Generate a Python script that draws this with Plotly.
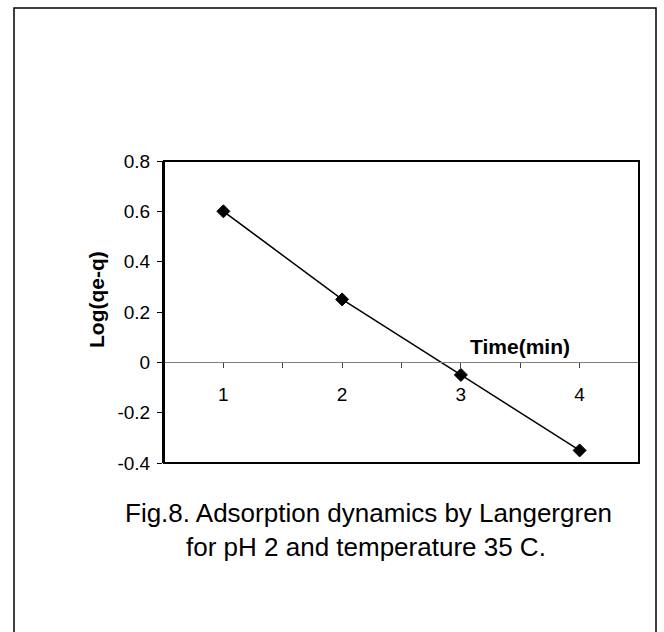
import plotly.graph_objects as go

# Lagergren pseudo-first-order plot: log(qe - q) against time
time_min = [1, 2, 3, 4]
log_qe_q = [0.60, 0.25, -0.05, -0.35]

y_tick_vals = [0.8, 0.6, 0.4, 0.2, 0.0, -0.2, -0.4]
y_tick_text = ["0.8", "0.6", "0.4", "0.2", "0", "-0.2", "-0.4"]
x_tick_text = ["1", "2", "3", "4"]

x_title = "Time(min)"
y_title = "Log(qe-q)"
caption = ["Fig.8. Adsorption dynamics by Langergren",
           "for pH 2 and temperature 35 C."]

FONT = "Arial, 'Liberation Sans', sans-serif"
W, H = 664, 632
L, R, T, B = 164, 25, 161, 169
PW, PH = W - L - R, H - T - B

y_min, y_max = -0.4, 0.8
x_min, x_max = 0.5, 4.5


def px_x(p):
    return (p - L) / PW


def px_y(p):
    return (H - B - p) / PH


# major ticks at each time point, minor ticks half-way between them
x_ticks = []
x_labels = []
for i, t in enumerate(time_min):
    x_ticks += [t, t + 0.5]
    x_labels += [x_tick_text[i], ""]

fig = go.Figure()
fig.add_trace(go.Scatter(
    x=time_min, y=log_qe_q, mode="lines+markers",
    line=dict(color="black", width=1.5),
    marker=dict(symbol="diamond", size=10, color="black",
                line=dict(color="black", width=1)),
    showlegend=False, cliponaxis=False,
))

fig.update_layout(
    width=W, height=H,
    margin=dict(l=L, r=R, t=T, b=B, pad=0),
    paper_bgcolor="white", plot_bgcolor="white",
    font=dict(family=FONT, color="black"),
    xaxis=dict(
        range=[x_min, x_max], anchor="free",
        position=(0 - y_min) / (y_max - y_min),
        showgrid=False, zeroline=False,
        showline=True, linecolor="#808080", linewidth=1,
        ticks="outside", ticklen=5, tickcolor="#404040", tickwidth=1,
        tickvals=x_ticks, ticktext=x_labels,
        tickfont=dict(size=19, family=FONT, color="black"),
        ticklabelstandoff=10,
    ),
    yaxis=dict(
        range=[y_min, y_max], domain=[0, 1],
        showgrid=False, zeroline=False,
        showline=True, linecolor="black", linewidth=2,
        ticks="outside", ticklen=5, tickcolor="black", tickwidth=1,
        tickvals=y_tick_vals, ticktext=y_tick_text,
        tickfont=dict(size=19, family=FONT, color="black"),
        ticklabelstandoff=3,
    ),
    shapes=[
        # plot area frame
        dict(type="rect", xref="paper", yref="paper", x0=0, x1=1, y0=0, y1=1,
             line=dict(color="black", width=2), layer="above"),
        # outer figure border
        dict(type="rect", xref="paper", yref="paper",
             x0=px_x(14), x1=px_x(656), y0=px_y(660), y1=px_y(8),
             line=dict(color="black", width=1.5), layer="above"),
    ],
    annotations=[
        dict(text="<b>%s</b>" % x_title, xref="x", yref="paper",
             x=3.5, y=px_y(346), xanchor="center", yanchor="middle",
             showarrow=False, font=dict(size=21, family=FONT)),
        dict(text="<b>%s</b>" % y_title, xref="paper", yref="paper",
             x=px_x(96), y=px_y(300), xanchor="center", yanchor="middle",
             textangle=-90, showarrow=False, font=dict(size=21, family=FONT)),
        dict(text=caption[0], xref="paper", yref="paper",
             x=px_x(368), y=px_y(513), xanchor="center", yanchor="middle",
             showarrow=False, font=dict(size=26, family=FONT)),
        dict(text=caption[1], xref="paper", yref="paper",
             x=px_x(366), y=px_y(547), xanchor="center", yanchor="middle",
             showarrow=False, font=dict(size=26, family=FONT)),
    ],
)

fig.write_html("out.html")
